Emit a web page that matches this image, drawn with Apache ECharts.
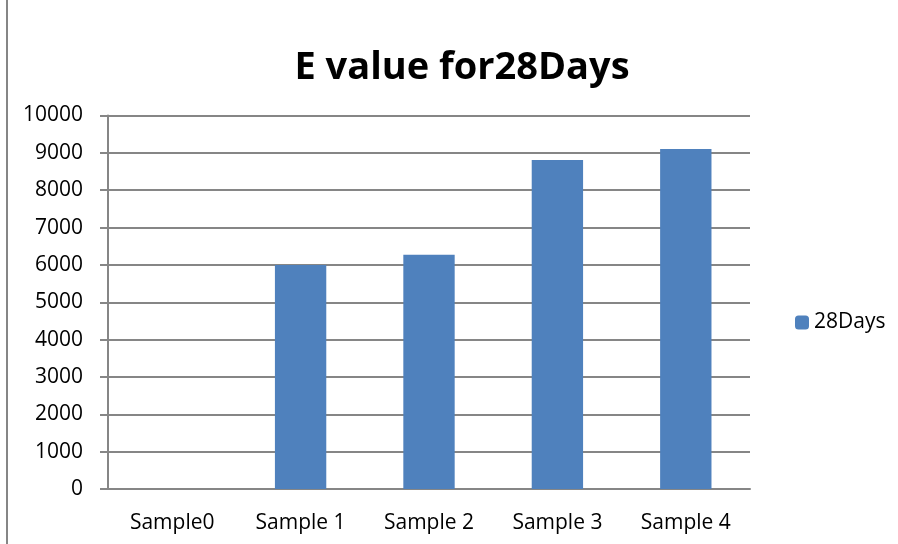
<!DOCTYPE html>
<html>
<head>
<meta charset="utf-8">
<script src="https://cdn.jsdelivr.net/npm/echarts@6/dist/echarts.min.js"></script>
<style>
  html, body { margin: 0; padding: 0; background: #fff; }
  #chart { width: 898px; height: 544px; }
</style>
</head>
<body>
<div id="chart"></div>
<script>
  // values
  const categories = ["Sample0", "Sample 1", "Sample 2", "Sample 3", "Sample 4"];
  const days28 = [0, 6000, 6270, 8810, 9100];
  const seriesName = "28Days";
  const titleText = "E value for28Days";

  const axisGray = "#868686";
  const font = "Open Sans";

  const chart = echarts.init(document.getElementById("chart"));
  chart.setOption({
    animation: false,
    title: {
      text: titleText,
      left: 457,
      textAlign: "center",
      top: 44,
      textStyle: { fontFamily: font, fontSize: 38, fontWeight: "bold", color: "#000" }
    },
    legend: {
      data: [seriesName],
      left: 790,
      top: 307,
      itemWidth: 14,
      itemHeight: 14,
      textStyle: { fontFamily: font, fontSize: 21, color: "#000" }
    },
    grid: { left: 108, right: 148, top: 115.5, bottom: 55 },
    xAxis: {
      type: "category",
      data: categories,
      axisLine: { lineStyle: { color: axisGray, width: 2 } },
      axisTick: { length: 8, lineStyle: { color: axisGray, width: 2 } },
      axisLabel: { margin: 24, fontFamily: font, fontSize: 21, color: "#000" }
    },
    yAxis: {
      type: "value",
      min: 0,
      max: 10000,
      interval: 1000,
      axisLine: { show: true, lineStyle: { color: axisGray, width: 2 } },
      axisTick: { show: true, length: 8, lineStyle: { color: axisGray, width: 2 } },
      splitLine: { lineStyle: { color: axisGray, width: 2 } },
      axisLabel: {
        margin: 25, fontFamily: font, fontSize: 21, color: "#000",
        formatter: (v) => String(v)
      }
    },
    series: [{
      name: seriesName,
      type: "bar",
      data: days28,
      barWidth: "40%",
      itemStyle: { color: "#4F81BD" }
    }],
    graphic: [{
      type: "line",
      shape: { x1: 7, y1: 0, x2: 7, y2: 544 },
      style: { stroke: axisGray, lineWidth: 2 }
    }]
  });
</script>
</body>
</html>
